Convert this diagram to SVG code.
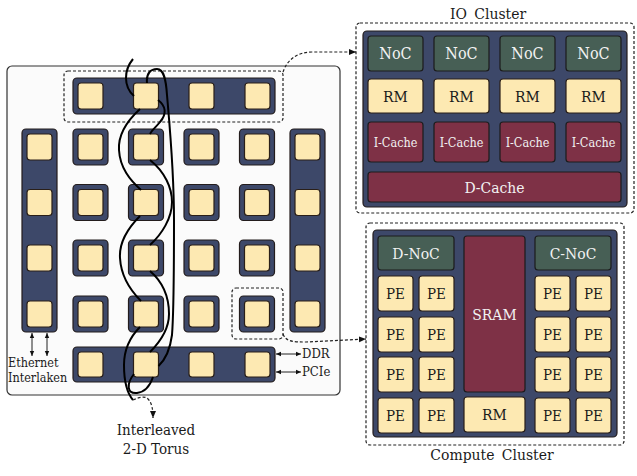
<svg xmlns="http://www.w3.org/2000/svg" width="637" height="476" viewBox="0 0 637 476">
<defs>
<style>
.panel{fill:#fbfbfb;stroke:#333;stroke-width:1.2}
.bar{fill:#3d4869;stroke:#231c1c;stroke-width:1.2}
.pe{fill:#fde9b2;stroke:#2a1f18;stroke-width:1.2}
.noc{fill:#475f55;stroke:#1c1c1c;stroke-width:1.2}
.mem{fill:#7e3146;stroke:#1c1c1c;stroke-width:1.2}
.dash{fill:none;stroke:#222;stroke-width:1.2;stroke-dasharray:3 2}
.wire{fill:none;stroke:#000;stroke-width:2}
.thin{fill:none;stroke:#222;stroke-width:1}
text{font-family:'DejaVu Serif Condensed','DejaVu Serif',serif;font-stretch:condensed;fill:#1a1a1a}
.lt{fill:#f2f2f2}
.c{text-anchor:middle}
</style>
<marker id="ah" markerUnits="userSpaceOnUse" markerWidth="8" markerHeight="8" refX="7" refY="4" orient="auto-start-reverse" viewBox="0 0 8 8">
<path d="M0,1 L7,4 L0,7 Z" fill="#111"/>
</marker>
<marker id="sa" markerUnits="userSpaceOnUse" markerWidth="6" markerHeight="6" refX="5" refY="3" orient="auto-start-reverse" viewBox="0 0 6 6">
<path d="M0,0.8 L5,3 L0,5.2 Z" fill="#111"/>
</marker>
</defs>

<rect class="panel" x="7" y="66" width="333" height="329" rx="5"/>

<g id="io-row">
<rect class="bar" x="73" y="78" width="202" height="36" rx="4"/>
<rect class="pe" x="78" y="83" width="25" height="26" rx="3"/>
<rect class="pe" x="133.5" y="83" width="25" height="26" rx="3"/>
<rect class="pe" x="189" y="83" width="25" height="26" rx="3"/>
<rect class="pe" x="245" y="83" width="25" height="26" rx="3"/>
</g>
<rect class="dash" x="64" y="71" width="219" height="51" rx="4"/>

<g id="left-column">
<rect class="bar" x="22" y="129" width="35" height="203" rx="4"/>
<rect class="pe" x="27" y="134" width="25" height="26" rx="3"/>
<rect class="pe" x="27" y="189.5" width="25" height="26" rx="3"/>
<rect class="pe" x="27" y="245" width="25" height="26" rx="3"/>
<rect class="pe" x="27" y="301" width="25" height="26" rx="3"/>
</g>
<g id="right-column">
<rect class="bar" x="290" y="129" width="35" height="203" rx="4"/>
<rect class="pe" x="295" y="134" width="25" height="26" rx="3"/>
<rect class="pe" x="295" y="189.5" width="25" height="26" rx="3"/>
<rect class="pe" x="295" y="245" width="25" height="26" rx="3"/>
<rect class="pe" x="295" y="301" width="25" height="26" rx="3"/>
</g>

<g id="grid">
<g id="n11"><rect class="bar" x="73" y="129" width="35" height="36" rx="4"/><rect class="pe" x="78" y="134" width="25" height="26" rx="3"/></g>
<g id="n12"><rect class="bar" x="128.5" y="129" width="35" height="36" rx="4"/><rect class="pe" x="133.5" y="134" width="25" height="26" rx="3"/></g>
<g id="n13"><rect class="bar" x="184" y="129" width="35" height="36" rx="4"/><rect class="pe" x="189" y="134" width="25" height="26" rx="3"/></g>
<g id="n14"><rect class="bar" x="239.5" y="129" width="35" height="36" rx="4"/><rect class="pe" x="244.5" y="134" width="25" height="26" rx="3"/></g>
<g id="n21"><rect class="bar" x="73" y="184.5" width="35" height="36" rx="4"/><rect class="pe" x="78" y="189.5" width="25" height="26" rx="3"/></g>
<g id="n22"><rect class="bar" x="128.5" y="184.5" width="35" height="36" rx="4"/><rect class="pe" x="133.5" y="189.5" width="25" height="26" rx="3"/></g>
<g id="n23"><rect class="bar" x="184" y="184.5" width="35" height="36" rx="4"/><rect class="pe" x="189" y="189.5" width="25" height="26" rx="3"/></g>
<g id="n24"><rect class="bar" x="239.5" y="184.5" width="35" height="36" rx="4"/><rect class="pe" x="244.5" y="189.5" width="25" height="26" rx="3"/></g>
<g id="n31"><rect class="bar" x="73" y="240" width="35" height="36" rx="4"/><rect class="pe" x="78" y="245" width="25" height="26" rx="3"/></g>
<g id="n32"><rect class="bar" x="128.5" y="240" width="35" height="36" rx="4"/><rect class="pe" x="133.5" y="245" width="25" height="26" rx="3"/></g>
<g id="n33"><rect class="bar" x="184" y="240" width="35" height="36" rx="4"/><rect class="pe" x="189" y="245" width="25" height="26" rx="3"/></g>
<g id="n34"><rect class="bar" x="239.5" y="240" width="35" height="36" rx="4"/><rect class="pe" x="244.5" y="245" width="25" height="26" rx="3"/></g>
<g id="n41"><rect class="bar" x="73" y="296" width="35" height="36" rx="4"/><rect class="pe" x="78" y="301" width="25" height="26" rx="3"/></g>
<g id="n42"><rect class="bar" x="128.5" y="296" width="35" height="36" rx="4"/><rect class="pe" x="133.5" y="301" width="25" height="26" rx="3"/></g>
<g id="n43"><rect class="bar" x="184" y="296" width="35" height="36" rx="4"/><rect class="pe" x="189" y="301" width="25" height="26" rx="3"/></g>
<g id="n44"><rect class="bar" x="239.5" y="296" width="35" height="36" rx="4"/><rect class="pe" x="244.5" y="301" width="25" height="26" rx="3"/></g>
</g>
<rect class="dash" x="232" y="288" width="51" height="51" rx="4"/>

<g id="bottom-row">
<rect class="bar" x="73" y="347" width="202" height="35" rx="4"/>
<rect class="pe" x="78" y="352" width="25" height="25" rx="3"/>
<rect class="pe" x="133.5" y="352" width="25" height="25" rx="3"/>
<rect class="pe" x="189" y="352" width="25" height="25" rx="3"/>
<rect class="pe" x="245" y="352" width="25" height="25" rx="3"/>
</g>

<g id="connectors">
<path class="wire" d="M133,59 C124,70 123,86 134,96"/>
<path class="wire" d="M140,109 C128,120 118,135 119,150 C120,168 130,180 141,190"/>
<path class="wire" d="M140,216 C128,228 119,242 120,258 C121,276 130,290 141,301"/>
<path class="wire" d="M140,327 C130,337 124,350 124,365 C124,382 127,393 133,400"/>
<path class="wire" d="M158,100 C166,106 167,114 160,122 C156,127 152,130 150,134"/>
<path class="wire" d="M150,160 C165,172 172,188 172,202 C172,218 162,234 150,245"/>
<path class="wire" d="M150,271 C164,283 169,298 169,314 C169,330 160,342 150,352"/>
<path class="wire" d="M134,374 C126,384 127,394 137,393 C145,392 150,386 153,377"/>
<path class="wire" d="M147,83 C146,73 151,69 157,69 C164,69 166,80 167,95 C170,130 174,170 174,220 C174,270 174,310 172,335 C170,350 165,360 158.5,366"/>
<path class="dash" d="M133,400 C138,398 144,395 148,399 C152,403 153,410 153,418" marker-end="url(#ah)"/>
<path class="dash" d="M283,72 C287,60 297,52 312,52 L356,52" marker-end="url(#ah)"/>
<path class="dash" d="M283,334 C286,342 294,342 306,342 L366,339" marker-end="url(#ah)"/>
<path class="thin" d="M32,333 L32,356" marker-start="url(#sa)" marker-end="url(#sa)"/>
<path class="thin" d="M47,333 L47,356" marker-start="url(#sa)" marker-end="url(#sa)"/>
<path class="thin" d="M276,354 L301,354" marker-start="url(#sa)" marker-end="url(#sa)"/>
<path class="thin" d="M276,372 L301,372" marker-start="url(#sa)" marker-end="url(#sa)"/>
</g>

<g id="labels">
<text x="8" y="367" font-size="12.5">Ethernet</text>
<text x="8" y="382" font-size="12.5">Interlaken</text>
<text x="302" y="358" font-size="13">DDR</text>
<text x="302" y="376" font-size="13">PCIe</text>
<text class="c" x="156" y="435" font-size="15">Interleaved</text>
<text class="c" x="156" y="454" font-size="15">2-D Torus</text>
</g>

<g id="io-cluster">
<text class="c" x="488" y="19" font-size="15.5" word-spacing="3">IO Cluster</text>
<rect class="dash" x="356" y="23" width="278" height="190" rx="4"/>
<rect class="bar" x="363" y="31" width="264" height="176" rx="4"/>
<g id="io-noc">
<rect class="noc" x="368" y="36" width="55" height="35" rx="3"/>
<rect class="noc" x="434" y="36" width="55" height="35" rx="3"/>
<rect class="noc" x="500" y="36" width="55" height="35" rx="3"/>
<rect class="noc" x="566" y="36" width="55" height="35" rx="3"/>
<text class="c lt" x="395.5" y="59" font-size="16">NoC</text>
<text class="c lt" x="461.5" y="59" font-size="16">NoC</text>
<text class="c lt" x="527.5" y="59" font-size="16">NoC</text>
<text class="c lt" x="593.5" y="59" font-size="16">NoC</text>
</g>
<g id="io-rm">
<rect class="pe" x="368" y="79" width="55" height="34" rx="3"/>
<rect class="pe" x="434" y="79" width="55" height="34" rx="3"/>
<rect class="pe" x="500" y="79" width="55" height="34" rx="3"/>
<rect class="pe" x="566" y="79" width="55" height="34" rx="3"/>
<text class="c" x="395.5" y="101.5" font-size="15.5">RM</text>
<text class="c" x="461.5" y="101.5" font-size="15.5">RM</text>
<text class="c" x="527.5" y="101.5" font-size="15.5">RM</text>
<text class="c" x="593.5" y="101.5" font-size="15.5">RM</text>
</g>
<g id="io-icache">
<rect class="mem" x="368" y="122" width="55" height="40" rx="3"/>
<rect class="mem" x="434" y="122" width="55" height="40" rx="3"/>
<rect class="mem" x="500" y="122" width="55" height="40" rx="3"/>
<rect class="mem" x="566" y="122" width="55" height="40" rx="3"/>
<text class="c lt" x="395.5" y="146.5" font-size="12.5">I-Cache</text>
<text class="c lt" x="461.5" y="146.5" font-size="12.5">I-Cache</text>
<text class="c lt" x="527.5" y="146.5" font-size="12.5">I-Cache</text>
<text class="c lt" x="593.5" y="146.5" font-size="12.5">I-Cache</text>
</g>
<g id="io-dcache">
<rect class="mem" x="368" y="172" width="253" height="30" rx="3"/>
<text class="c lt" x="494.5" y="192.5" font-size="15.5">D-Cache</text>
</g>
</g>

<g id="compute-cluster">
<rect class="dash" x="366" y="223" width="258" height="222" rx="4"/>
<rect class="bar" x="373" y="230" width="244" height="207" rx="4"/>
<g id="d-noc"><rect class="noc" x="378" y="236" width="76" height="34" rx="3"/><text class="c lt" x="416" y="258.5" font-size="15.5">D-NoC</text></g>
<g id="c-noc"><rect class="noc" x="535" y="236" width="76" height="34" rx="3"/><text class="c lt" x="573" y="258.5" font-size="15.5">C-NoC</text></g>
<g id="sram"><rect class="mem" x="464" y="236" width="61" height="156" rx="3"/><text class="c lt" x="494.5" y="320" font-size="15.5">SRAM</text></g>
<g id="cc-rm"><rect class="pe" x="464" y="397" width="61" height="35" rx="3"/><text class="c" x="494.5" y="420" font-size="15.5">RM</text></g>
<g id="pes">
<rect class="pe" x="378" y="276" width="35" height="35" rx="3"/><rect class="pe" x="419" y="276" width="35" height="35" rx="3"/><rect class="pe" x="535" y="276" width="35" height="35" rx="3"/><rect class="pe" x="576" y="276" width="35" height="35" rx="3"/>
<rect class="pe" x="378" y="317" width="35" height="35" rx="3"/><rect class="pe" x="419" y="317" width="35" height="35" rx="3"/><rect class="pe" x="535" y="317" width="35" height="35" rx="3"/><rect class="pe" x="576" y="317" width="35" height="35" rx="3"/>
<rect class="pe" x="378" y="357" width="35" height="35" rx="3"/><rect class="pe" x="419" y="357" width="35" height="35" rx="3"/><rect class="pe" x="535" y="357" width="35" height="35" rx="3"/><rect class="pe" x="576" y="357" width="35" height="35" rx="3"/>
<rect class="pe" x="378" y="398" width="35" height="35" rx="3"/><rect class="pe" x="419" y="398" width="35" height="35" rx="3"/><rect class="pe" x="535" y="398" width="35" height="35" rx="3"/><rect class="pe" x="576" y="398" width="35" height="35" rx="3"/>
<text class="c" x="395.5" y="299" font-size="15">PE</text><text class="c" x="436.5" y="299" font-size="15">PE</text><text class="c" x="552.5" y="299" font-size="15">PE</text><text class="c" x="593.5" y="299" font-size="15">PE</text>
<text class="c" x="395.5" y="340" font-size="15">PE</text><text class="c" x="436.5" y="340" font-size="15">PE</text><text class="c" x="552.5" y="340" font-size="15">PE</text><text class="c" x="593.5" y="340" font-size="15">PE</text>
<text class="c" x="395.5" y="380" font-size="15">PE</text><text class="c" x="436.5" y="380" font-size="15">PE</text><text class="c" x="552.5" y="380" font-size="15">PE</text><text class="c" x="593.5" y="380" font-size="15">PE</text>
<text class="c" x="395.5" y="421" font-size="15">PE</text><text class="c" x="436.5" y="421" font-size="15">PE</text><text class="c" x="552.5" y="421" font-size="15">PE</text><text class="c" x="593.5" y="421" font-size="15">PE</text>
</g>
<text class="c" x="492" y="460" font-size="15.5" word-spacing="3">Compute Cluster</text>
</g>
</svg>
